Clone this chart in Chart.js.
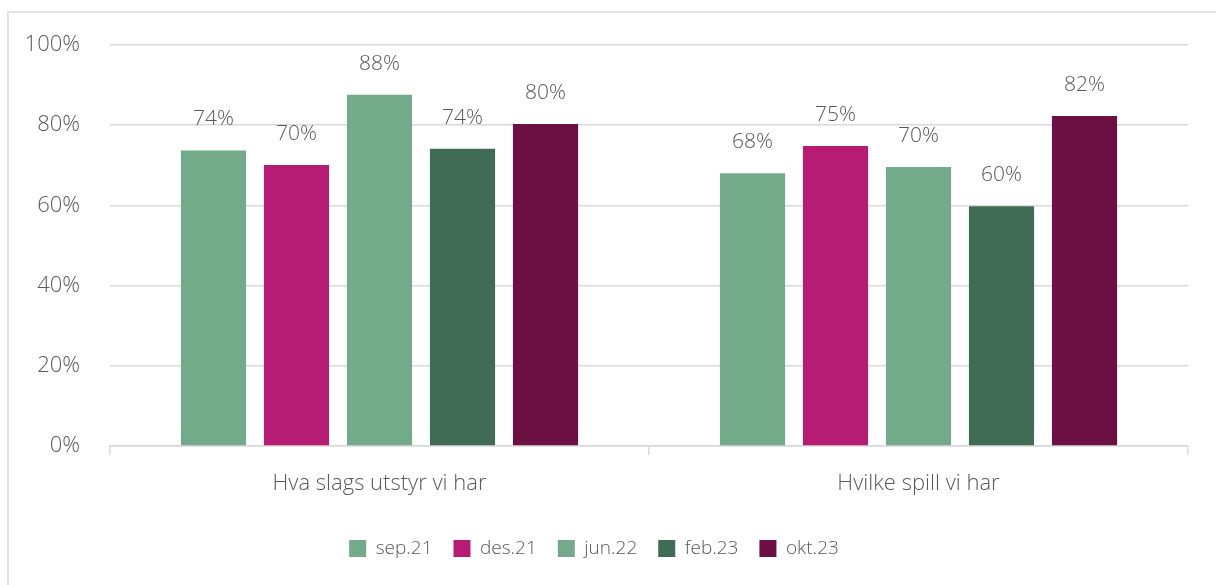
<!DOCTYPE html>
<html>
<head>
<meta charset="utf-8">
<script src="https://cdn.jsdelivr.net/npm/chart.js@4.4.1/dist/chart.umd.min.js"></script>
<style>
  html, body { margin: 0; padding: 0; background: #fff; overflow: hidden; }
  #frame { position: absolute; left: 7px; top: 11px; width: 1400px; height: 800px; border: 2px solid #e2e2e2; }
  #wrap { position: absolute; left: 0; top: 0; width: 1216px; height: 585px; }
</style>
</head>
<body>
<div id="frame"></div>
<div id="wrap"><canvas id="c"></canvas></div>
<script>
const categories = ['Hva slags utstyr vi har', 'Hvilke spill vi har'];
const seriesNames = ['sep.21', 'des.21', 'jun.22', 'feb.23', 'okt.23'];
const sep21 = [73.7, 68.0];
const des21 = [70.1, 74.8];
const jun22 = [87.6, 69.6];
const feb23 = [74.1, 59.8];
const okt23 = [80.3, 82.3];
const colors = ['#73AA8A', '#B71C74', '#73AA8A', '#406B54', '#6C1044'];
const yTicks = [0, 20, 40, 60, 80, 100];

const FONT = '"Open Sans", "Lato", sans-serif';
const TXT = '#595959';

// draws the rounded % above each bar
const valueLabels = {
  id: 'valueLabels',
  afterDatasetsDraw(chart) {
    const ctx = chart.ctx;
    ctx.save();
    ctx.font = '300 21px ' + FONT;
    ctx.fillStyle = TXT;
    ctx.textAlign = 'center';
    ctx.textBaseline = 'middle';
    chart.data.datasets.forEach((ds, i) => {
      chart.getDatasetMeta(i).data.forEach((bar, j) => {
        ctx.fillText(Math.round(ds.data[j]) + '%', bar.x, bar.y - 31);
      });
    });
    ctx.restore();
  }
};

const allSeries = [sep21, des21, jun22, feb23, okt23];

new Chart(document.getElementById('c'), {
  type: 'bar',
  data: {
    labels: categories,
    datasets: allSeries.map((d, i) => ({
      label: seriesNames[i],
      data: d,
      backgroundColor: colors[i],
      categoryPercentage: 0.77,
      barPercentage: 0.785,
    })),
  },
  options: {
    responsive: true,
    maintainAspectRatio: false,
    animation: false,
    layout: { padding: { left: 0, right: 28, top: 45, bottom: 17 } },
    plugins: {
      tooltip: { enabled: false },
      legend: {
        position: 'bottom',
        labels: {
          boxWidth: 17,
          boxHeight: 17,
          padding: 21,
          color: TXT,
          font: { family: FONT, size: 19, weight: '300' },
        },
      },
    },
    scales: {
      x: {
        afterFit: s => { s.height = 72; },
        grid: { display: true, drawOnChartArea: false, drawTicks: true, tickLength: 9, color: '#d9d9d9', lineWidth: 1.5, offset: true },
        border: { display: true, color: '#d9d9d9', width: 1.5 },
        ticks: { color: TXT, padding: 16, font: { family: FONT, size: 22, weight: '300' } },
      },
      y: {
        min: 0,
        max: 100,
        afterFit: s => { s.width = 110; },
        afterBuildTicks: s => { s.ticks = yTicks.map(v => ({ value: v })); },
        grid: { color: '#d9d9d9', lineWidth: 1.5, drawTicks: false },
        border: { display: false },
        ticks: {
          color: TXT,
          padding: 30,
          font: { family: FONT, size: 22, weight: '300' },
          callback: v => v + '%',
        },
      },
    },
  },
  plugins: [valueLabels],
});
</script>
</body>
</html>
